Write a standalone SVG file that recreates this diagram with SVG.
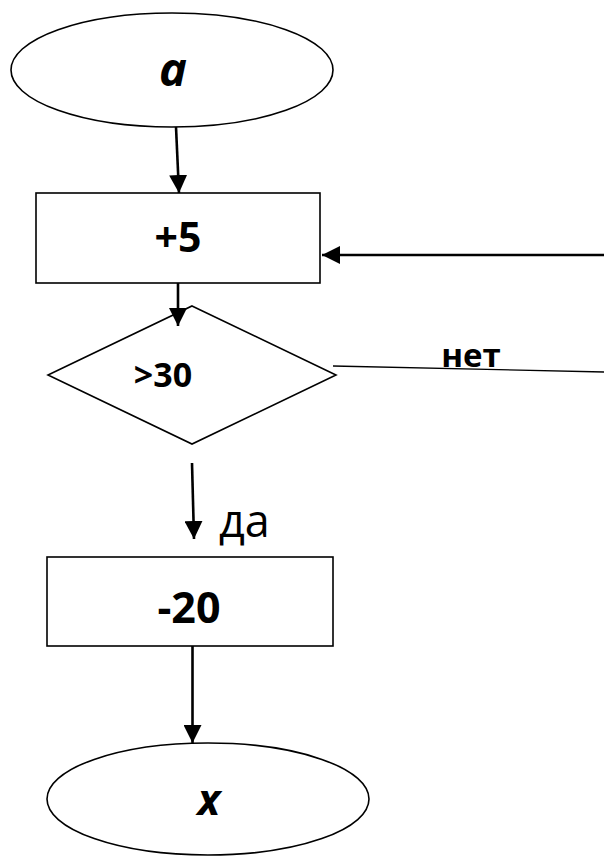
<svg xmlns="http://www.w3.org/2000/svg" width="604" height="856" viewBox="0 0 604 856">
<style>
.shape{fill:#fff;stroke:#000;stroke-width:1.6}
.conn{fill:none;stroke:#000;stroke-width:2.6}
.thin{fill:none;stroke:#000;stroke-width:1.4}
.t{font-family:"Open Sans","Liberation Sans",sans-serif;fill:#000}
.b{font-weight:bold}
.i{font-style:italic}
</style>
<defs>
<marker id="ah" markerUnits="userSpaceOnUse" markerWidth="18" markerHeight="18" viewBox="0 0 16 16" refX="16" refY="8" orient="auto">
<path d="M0,0 L16,8 L0,16 Z" fill="#000"/>
</marker>
</defs>
<rect width="604" height="856" fill="#fff"/>
<g id="start">
<ellipse class="shape" cx="172" cy="70" rx="161" ry="57"/>
<text class="t b i" x="173" y="86" font-size="47" text-anchor="middle">a</text>
</g>
<g id="plus5">
<rect class="shape" x="36" y="193" width="284" height="90"/>
<text class="t b" x="178" y="252" font-size="41" text-anchor="middle">+5</text>
</g>
<g id="cond">
<polygon class="shape" points="192,306 336,375 192,444 48,375"/>
<text class="t b" x="163" y="387" font-size="34" text-anchor="middle">&gt;30</text>
</g>
<g id="minus20">
<rect class="shape" x="47" y="557" width="286" height="89"/>
<text class="t b" x="189" y="623" font-size="43" text-anchor="middle">-20</text>
</g>
<g id="end">
<ellipse class="shape" cx="208" cy="799" rx="161" ry="56"/>
<text class="t b i" x="209" y="815" font-size="43" text-anchor="middle">x</text>
</g>
<g id="connectors">
<line class="conn" x1="176" y1="127" x2="179" y2="193" marker-end="url(#ah)"/>
<line class="conn" x1="178" y1="283" x2="178" y2="326" marker-end="url(#ah)"/>
<line class="conn" x1="604" y1="255" x2="322" y2="255" marker-end="url(#ah)"/>
<line class="thin" x1="333" y1="366" x2="604" y2="372"/>
<line class="conn" x1="192" y1="463" x2="194" y2="539" marker-end="url(#ah)"/>
<line class="conn" x1="192.5" y1="646" x2="192.5" y2="743" marker-end="url(#ah)"/>
<text class="t b" x="471" y="367" font-size="33" text-anchor="middle">нет</text>
<text class="t" x="219" y="537" font-size="45">да</text>
</g>
</svg>
